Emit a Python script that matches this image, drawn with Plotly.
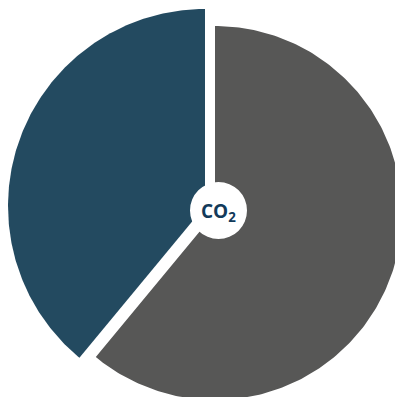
import numpy as np
import plotly.graph_objects as go

# Two-part CO2 share breakdown
segments = ["Remaining share", "Highlighted share"]
values = [61, 39]
colors = ["#575756", "#234a60"]

# Per-slice drawing geometry in pixel space (centre x, centre y, radius)
slice_geometry = [
    (215.0, 213.0, 187.0),
    (205.0, 206.0, 197.0),
]

W, H = 395, 397
centre_badge = (218.5, 210.5, 28.5)

fig = go.Figure()

total = float(sum(values))
start = 0.0
for name, val, col, (cx, cy, r) in zip(segments, values, colors, slice_geometry):
    sweep = 360.0 * val / total
    theta = np.radians(np.linspace(start, start + sweep, 240))
    # angles run clockwise from 12 o'clock; y axis is reversed (screen-like)
    xs = np.concatenate([[cx], cx + r * np.sin(theta), [cx]])
    ys = np.concatenate([[cy], cy - r * np.cos(theta), [cy]])
    fig.add_trace(go.Scatter(
        x=xs, y=ys, mode="lines", fill="toself",
        fillcolor=col, line=dict(width=0, color=col),
        name=name, hoverinfo="name", showlegend=False,
    ))
    start += sweep

bx, by, br = centre_badge
fig.add_shape(type="circle", xref="x", yref="y",
              x0=bx - br, x1=bx + br, y0=by - br, y1=by + br,
              fillcolor="white", line=dict(width=0), layer="above")

fig.add_annotation(x=bx, y=by + 1, xref="x", yref="y",
                   text="<b>CO<sub>2</sub></b>", showarrow=False,
                   font=dict(family="Open Sans", size=19, color="#123a5a"),
                   xanchor="center", yanchor="middle")

fig.update_xaxes(range=[0, W], visible=False, fixedrange=True)
fig.update_yaxes(range=[H, 0], visible=False, fixedrange=True)
fig.update_layout(
    width=W, height=H,
    margin=dict(l=0, r=0, t=0, b=0),
    paper_bgcolor="white", plot_bgcolor="white",
    showlegend=False,
)

fig.write_html("out.html")
